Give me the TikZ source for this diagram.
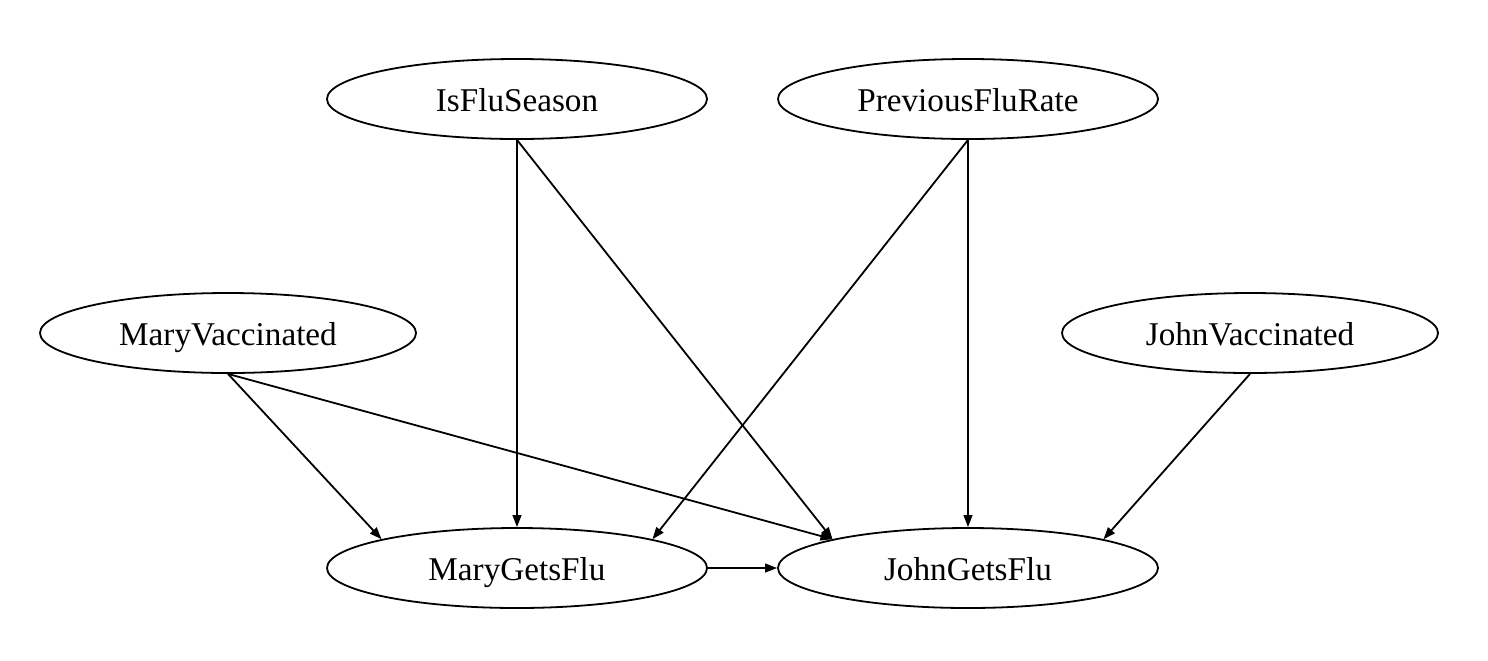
\documentclass[tikz,border=0pt]{standalone}
\usepackage{fontspec}
\setmainfont{Liberation Serif}
\usetikzlibrary{shapes.geometric,arrows.meta}
\begin{document}
\begin{tikzpicture}[x=0.5pt,y=-0.5pt,
  var/.style={draw,ellipse,line width=0.9pt,inner sep=0pt,minimum width=190pt,minimum height=40pt,text height=12.3pt,text depth=0pt,font=\fontsize{16.6}{20}\selectfont},
  edge/.style={line width=0.9pt,-{Triangle[length=6pt,width=4.4pt]}}]
\useasboundingbox (0,0) rectangle (1488,660);
\node[var] (ifs) at (517,99) {IsFluSeason};
\node[var] (pfr) at (968,99) {PreviousFluRate};
\node[var,minimum width=188pt] (mv) at (228,333) {MaryVaccinated};
\node[var,minimum width=188pt] (jv) at (1250,333) {JohnVaccinated};
\node[var] (mg) at (517,568) {MaryGetsFlu};
\node[var] (jg) at (968,568) {JohnGetsFlu};
\draw[edge] (ifs.south) -- (mg.north);
\draw[edge] (ifs.south) -- (jg.168);
\draw[edge] (pfr.south) -- (mg.12);
\draw[edge] (pfr.south) -- (jg.north);
\draw[edge] (mv.south) -- (mg.168);
\draw[edge] (mv.south) -- (jg.168);
\draw[edge] (jv.south) -- (jg.12);
\draw[edge] (mg.east) -- (jg.west);
\end{tikzpicture}
\end{document}
